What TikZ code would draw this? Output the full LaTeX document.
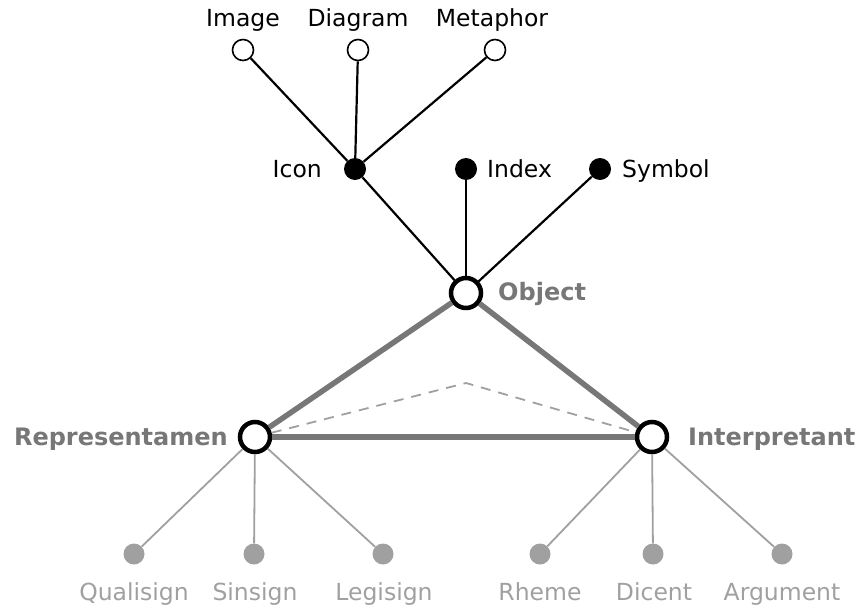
\documentclass[tikz,border=0pt]{standalone}
\usepackage{fontspec}
\setmainfont{DejaVu Sans}
\begin{document}
\begin{tikzpicture}[x=1pt,y=-1pt,
  opencirc/.style={circle,draw=black,line width=1.6pt,fill=white,minimum size=21pt,inner sep=0pt},
  blackdot/.style={circle,fill=black,minimum size=22pt,inner sep=0pt},
  bigcirc/.style={circle,draw=black,line width=4.5pt,fill=white,minimum size=30pt,inner sep=0pt},
  graydot/.style={circle,fill=lightg,minimum size=21pt,inner sep=0pt},
  blk/.style={black,line width=2.2pt},
  thick gray/.style={draw=midg,line width=5.5pt},
  thin gray/.style={draw=lightg,line width=1.8pt},
  toplbl/.style={font=\fontsize{23.5}{28}\selectfont,text=black,inner sep=0pt},
  mainlbl/.style={font=\fontsize{24}{29}\selectfont\bfseries,text=midg,inner sep=0pt},
  botlbl/.style={font=\fontsize{23.5}{28}\selectfont,text=lightg,inner sep=0pt,anchor=base}]
\definecolor{midg}{HTML}{777777}
\definecolor{lightg}{HTML}{A0A0A0}
\useasboundingbox (0,0) rectangle (859,608);
% nodes
\node[opencirc] (img) at (243,50) {};
\node[opencirc] (dia) at (358,50) {};
\node[opencirc] (met) at (495,50) {};
\node[blackdot] (icon) at (355,169) {};
\node[blackdot] (index) at (466,169) {};
\node[blackdot] (sym) at (600,169) {};
\node[bigcirc] (obj) at (466,293) {};
\node[bigcirc] (rep) at (255,437) {};
\node[bigcirc] (int) at (652,437) {};
\coordinate (apex) at (466,383);
\node[graydot] (q) at (134,554) {};
\node[graydot] (s) at (254,554) {};
\node[graydot] (l) at (383,554) {};
\node[graydot] (r) at (540,554) {};
\node[graydot] (d) at (653,554) {};
\node[graydot] (a) at (782,554) {};
% labels
\node[toplbl,anchor=base] at (243,26) {Image};
\node[toplbl,anchor=base] at (358,26) {Diagram};
\node[toplbl,anchor=base] at (492,26) {Metaphor};
\node[toplbl,anchor=base east] at (322,177) {Icon};
\node[toplbl,anchor=base west] at (487,177) {Index};
\node[toplbl,anchor=base west] at (622,177) {Symbol};
\node[mainlbl,anchor=base west] at (498,300) {Object};
\node[mainlbl,anchor=base east] at (228,445) {Representamen};
\node[mainlbl,anchor=base west] at (688,445) {Interpretant};
\node[botlbl] at (134,600) {Qualisign};
\node[botlbl] at (255,600) {Sinsign};
\node[botlbl] at (384,600) {Legisign};
\node[botlbl] at (540,600) {Rheme};
\node[botlbl] at (654,600) {Dicent};
\node[botlbl] at (782,600) {Argument};
% connectors
\draw[blk] (img) -- (icon);
\draw[blk] (dia) -- (icon);
\draw[blk] (met) -- (icon);
\draw[blk] (icon) -- (obj);
\draw[blk] (index) -- (obj);
\draw[blk] (sym) -- (obj);
\draw[thick gray] (obj) -- (rep);
\draw[thick gray] (obj) -- (int);
\draw[thick gray] (rep) -- (int);
\draw[thin gray,dash pattern=on 10pt off 8pt] (rep) -- (apex) -- (int);
\draw[thin gray] (rep) -- (q);
\draw[thin gray] (rep) -- (s);
\draw[thin gray] (rep) -- (l);
\draw[thin gray] (int) -- (r);
\draw[thin gray] (int) -- (d);
\draw[thin gray] (int) -- (a);
\end{tikzpicture}
\end{document}
